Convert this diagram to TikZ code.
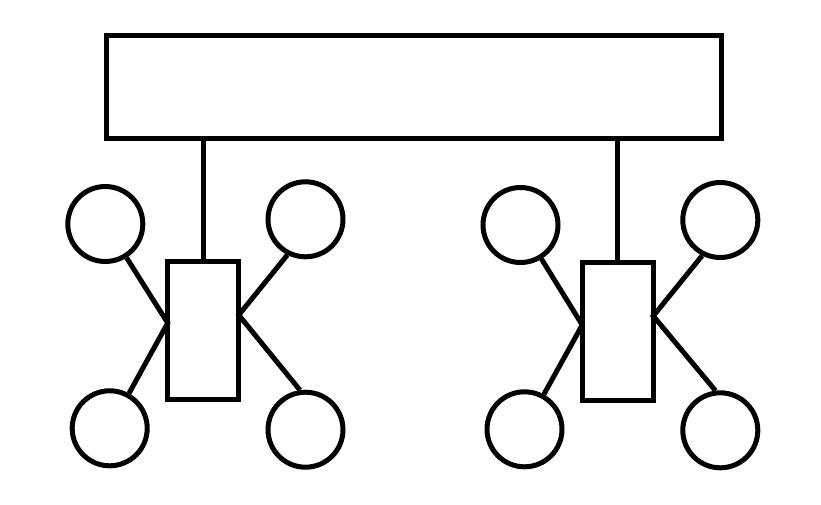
\documentclass[tikz,border=0pt]{standalone}
\begin{document}
\begin{tikzpicture}[x=1pt,y=-1pt,
  lw/.style={line width=5pt},
  bigbox/.style={draw,lw,minimum width=615pt,minimum height=103pt,inner sep=0pt,outer sep=0pt},
  smallbox/.style={draw,lw,minimum width=71pt,minimum height=138pt,inner sep=0pt,outer sep=0pt},
  wheel/.style={draw,lw,circle,minimum size=75pt,inner sep=0pt}]
\useasboundingbox (0,0) rectangle (821,505);
\node[bigbox] (big) at (414,87.5) {};
\node[smallbox] (s1) at (203.25,330) {};
\node[smallbox] (s2) at (617.75,331) {};
\draw[lw] (s1.north) -- (s1.north |- big.south);
\draw[lw] (s2.north) -- (s2.north |- big.south);
\coordinate (s1l) at (167.75,323);
\coordinate (s1r) at (238.75,315);
\coordinate (s2l) at (582.25,325);
\coordinate (s2r) at (653.25,316);
\node[wheel] (a1) at (105.3,224) {};
\node[wheel] (a2) at (305.5,219.3) {};
\node[wheel] (a3) at (109.7,428.3) {};
\node[wheel] (a4) at (305.5,429.7) {};
\node[wheel] (b1) at (520.5,225) {};
\node[wheel] (b2) at (720.3,220) {};
\node[wheel] (b3) at (524.5,429.3) {};
\node[wheel] (b4) at (720.3,430.3) {};
\draw[lw] (a1) -- (s1l) -- (a3);
\draw[lw] (a2.243) -- (s1r) -- (a4.98);
\draw[lw] (b1) -- (s2l) -- (b3);
\draw[lw] (b2.243) -- (s2r) -- (b4.97);
\end{tikzpicture}
\end{document}
